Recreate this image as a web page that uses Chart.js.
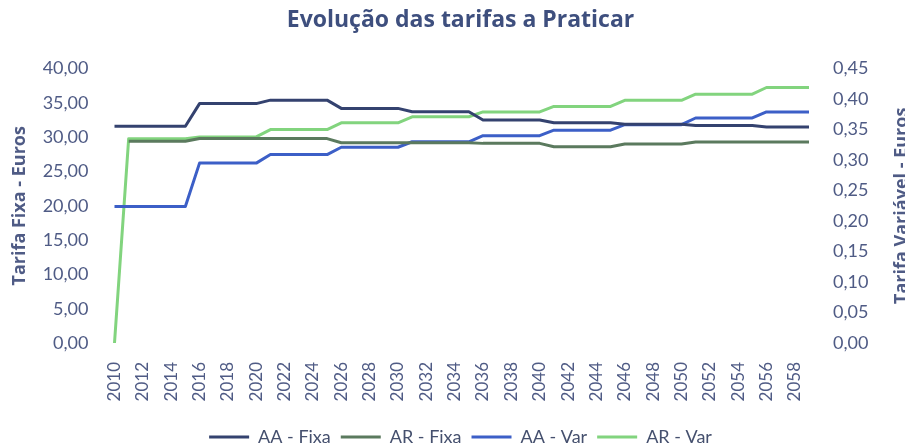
<!DOCTYPE html>
<html>
<head>
<meta charset="utf-8">
<script src="https://cdn.jsdelivr.net/npm/chart.js@4.4.1/dist/chart.umd.min.js"></script>
<style>
  html, body { margin: 0; padding: 0; background: #fff; overflow: hidden; }
  .wrap { position: relative; width: 921px; height: 456px; }
</style>
</head>
<body>
<div class="wrap"><canvas id="chart"></canvas></div>
<script>
const years = [
  2010, 2011, 2012, 2013, 2014, 2015, 2016, 2017, 2018, 2019,
  2020, 2021, 2022, 2023, 2024, 2025, 2026, 2027, 2028, 2029,
  2030, 2031, 2032, 2033, 2034, 2035, 2036, 2037, 2038, 2039,
  2040, 2041, 2042, 2043, 2044, 2045, 2046, 2047, 2048, 2049,
  2050, 2051, 2052, 2053, 2054, 2055, 2056, 2057, 2058, 2059
];

// tarifa fixa (eixo esquerdo, euros)
const aaFixa = [
  31.6, 31.6, 31.6, 31.6, 31.6, 31.6, 34.9, 34.9, 34.9, 34.9,
  34.9, 35.4, 35.4, 35.4, 35.4, 35.4, 34.2, 34.2, 34.2, 34.2,
  34.2, 33.7, 33.7, 33.7, 33.7, 33.7, 32.5, 32.5, 32.5, 32.5,
  32.5, 32.1, 32.1, 32.1, 32.1, 32.1, 31.9, 31.9, 31.9, 31.9,
  31.9, 31.7, 31.7, 31.7, 31.7, 31.7, 31.5, 31.5, 31.5, 31.5
];
const arFixa = [
  null, 29.4, 29.4, 29.4, 29.4, 29.4, 29.8, 29.8, 29.8, 29.8,
  29.8, 29.8, 29.8, 29.8, 29.8, 29.8, 29.2, 29.2, 29.2, 29.2,
  29.2, 29.2, 29.2, 29.2, 29.2, 29.2, 29.1, 29.1, 29.1, 29.1,
  29.1, 28.6, 28.6, 28.6, 28.6, 28.6, 29.0, 29.0, 29.0, 29.0,
  29.0, 29.3, 29.3, 29.3, 29.3, 29.3, 29.3, 29.3, 29.3, 29.3
];

// tarifa variavel (eixo direito, euros)
const aaVar = [
  0.224, 0.224, 0.224, 0.224, 0.224, 0.224, 0.295, 0.295, 0.295, 0.295,
  0.295, 0.309, 0.309, 0.309, 0.309, 0.309, 0.321, 0.321, 0.321, 0.321,
  0.321, 0.330, 0.330, 0.330, 0.330, 0.330, 0.340, 0.340, 0.340, 0.340,
  0.340, 0.349, 0.349, 0.349, 0.349, 0.349, 0.358, 0.358, 0.358, 0.358,
  0.358, 0.369, 0.369, 0.369, 0.369, 0.369, 0.379, 0.379, 0.379, 0.379
];
const arVar = [
  0.000, 0.335, 0.335, 0.335, 0.335, 0.335, 0.338, 0.338, 0.338, 0.338,
  0.338, 0.350, 0.350, 0.350, 0.350, 0.350, 0.361, 0.361, 0.361, 0.361,
  0.361, 0.371, 0.371, 0.371, 0.371, 0.371, 0.379, 0.379, 0.379, 0.379,
  0.379, 0.388, 0.388, 0.388, 0.388, 0.388, 0.398, 0.398, 0.398, 0.398,
  0.398, 0.408, 0.408, 0.408, 0.408, 0.408, 0.419, 0.419, 0.419, 0.419
];

const leftTicks = { min: 0, max: 40, step: 5 };
const rightTicks = { min: 0, max: 0.45, step: 0.05 };

const textColor = '#4f5b85';
const FONT = 'Lato';
const TITLE_FONT = 'Open Sans';

function fmt(v) {
  return Number(v).toFixed(2).replace('.', ',');
}

function serie(label, data, color, axis) {
  return {
    label: label,
    data: data,
    borderColor: color,
    backgroundColor: color,
    borderWidth: 3,
    pointRadius: 0,
    pointHoverRadius: 0,
    tension: 0,
    borderJoinStyle: 'round',
    spanGaps: false,
    yAxisID: axis
  };
}

// o titulo do eixo direito le-se de baixo para cima, como o da esquerda
const rightTitle = {
  id: 'rightTitle',
  afterDraw(chart) {
    const s = chart.scales.y1;
    const area = chart.chartArea;
    const c = chart.ctx;
    c.save();
    c.translate(s.right - 19, (area.top + area.bottom) / 2);
    c.rotate(-Math.PI / 2);
    c.font = 'bold 18px "' + TITLE_FONT + '"';
    c.fillStyle = textColor;
    c.textAlign = 'center';
    c.textBaseline = 'middle';
    c.fillText('Tarifa Variável - Euros', 0, 0);
    c.restore();
  }
};

const ctx = document.getElementById('chart').getContext('2d');
const myChart = new Chart(ctx, {
  type: 'line',
  data: {
    labels: years,
    datasets: [
      serie('AA - Fixa', aaFixa, '#34426f', 'y'),
      serie('AR - Fixa', arFixa, '#5b7a5e', 'y'),
      serie('AA - Var', aaVar, '#3c5fc7', 'y1'),
      serie('AR - Var', arVar, '#82d47e', 'y1')
    ]
  },
  options: {
    responsive: true,
    maintainAspectRatio: false,
    animation: false,
    layout: { padding: 0 },
    plugins: {
      title: {
        display: true,
        text: 'Evolução das tarifas a Praticar',
        color: '#3e4f7e',
        font: { family: TITLE_FONT, size: 23, weight: 'bold' },
        padding: { top: 7, bottom: 34 }
      },
      legend: {
        position: 'bottom',
        labels: {
          usePointStyle: true,
          pointStyle: 'line',
          pointStyleWidth: 40,
          color: '#45506e',
          font: { family: FONT, size: 18 },
          padding: 10
        }
      },
      tooltip: { enabled: false }
    },
    scales: {
      x: {
        grid: { display: false, drawTicks: false },
        border: { display: false },
        ticks: {
          autoSkip: false,
          minRotation: 90,
          maxRotation: 90,
          padding: 19,
          color: textColor,
          font: { family: FONT, size: 17 },
          callback: function(value, index) {
            return index % 2 === 0 ? this.getLabelForValue(value) : '';
          }
        },
        afterFit: function(scale) { scale.height = 75; }
      },
      y: {
        position: 'left',
        min: leftTicks.min,
        max: leftTicks.max,
        grid: { display: false, drawTicks: false },
        border: { display: false },
        ticks: {
          stepSize: leftTicks.step,
          padding: 26,
          color: textColor,
          font: { family: FONT, size: 18 },
          callback: fmt
        },
        title: {
          display: true,
          text: 'Tarifa Fixa - Euros',
          color: textColor,
          font: { family: TITLE_FONT, size: 18, weight: 'bold' },
          padding: { top: 9, bottom: 0 }
        },
        afterFit: function(scale) { scale.width = 114.5; }
      },
      y1: {
        position: 'right',
        min: rightTicks.min,
        max: rightTicks.max,
        grid: { display: false, drawTicks: false },
        border: { display: false },
        ticks: {
          stepSize: rightTicks.step,
          padding: 24,
          color: textColor,
          font: { family: FONT, size: 18 },
          callback: fmt
        },
        afterFit: function(scale) { scale.width = 112; }
      }
    }
  },
  plugins: [rightTitle]
});
</script>
</body>
</html>
